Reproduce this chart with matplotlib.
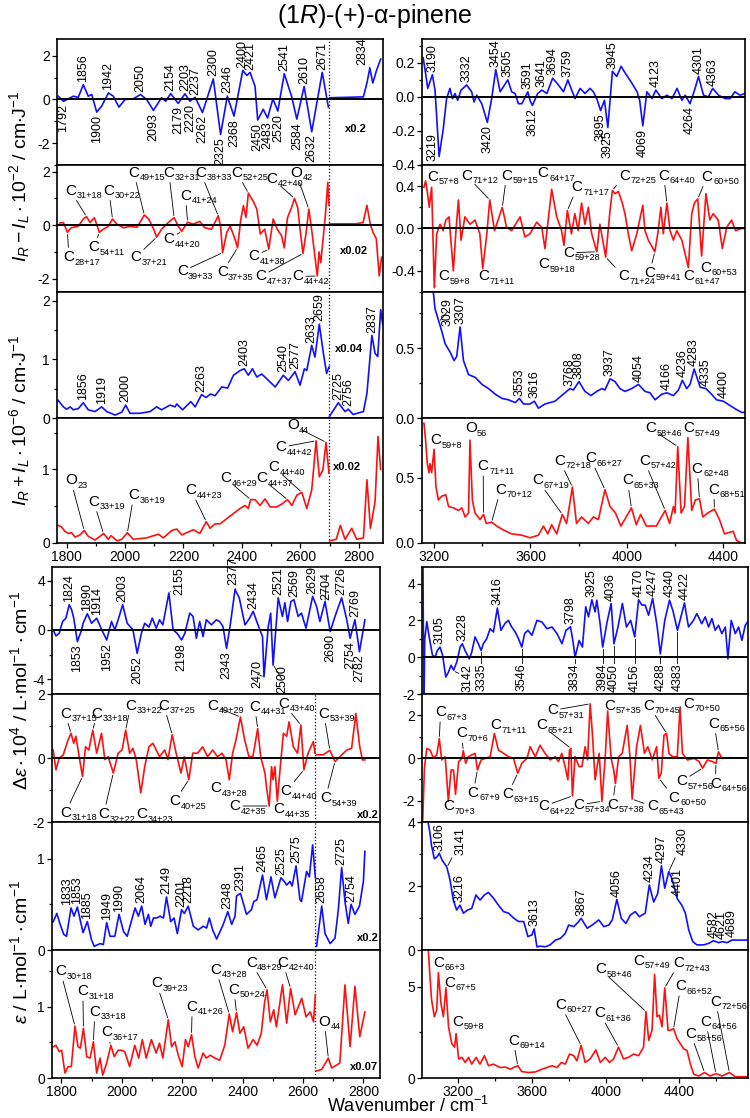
import numpy as np
import matplotlib
matplotlib.use('Agg')
import matplotlib.pyplot as plt
from matplotlib.ticker import MultipleLocator, FormatStrFormatter

plt.rcParams['font.family'] = ['Liberation Sans', 'DejaVu Sans']
plt.rcParams['mathtext.fontset'] = 'custom'
plt.rcParams['mathtext.rm'] = 'Liberation Sans'
plt.rcParams['mathtext.it'] = 'Liberation Sans:italic'
plt.rcParams['mathtext.bf'] = 'Liberation Sans:bold'
plt.rcParams['mathtext.default'] = 'regular'

nan = np.nan

# ---------------- spectra (wavenumber, value) ----------------
# top-left block: ROA difference / sum, 1770-2880
tl_diff_calc = np.array([
    (1771, 0.15), (1789, -0.08), (1806, 0.03), (1823, 0.15), (1840, 0.1), (1857, 0.68), (1874, 0.15),
    (1886, 0.23), (1903, -0.58), (1920, -0.3), (1943, 0.3), (1960, 0.15), (1979, -0.35), (2000, 0.0),
    (2028, 0.03), (2053, 0.23), (2074, 0.0), (2097, -0.5), (2125, 0.08), (2139, -0.08), (2156, 0.27),
    (2182, -0.18), (2205, 0.26), (2222, -0.08), (2240, 0.1), (2265, -0.6), (2302, 0.94), (2327, -1.6),
    (2350, 0.15), (2373, -0.76), (2403, 1.33), (2417, 1.1), (2428, 1.24), (2445, 0.6), (2454, -0.94),
    (2473, -0.45), (2488, -0.85), (2506, 0.03), (2523, -0.53), (2545, 1.18), (2570, 0.15), (2588, -0.9),
    (2613, 0.6), (2639, -1.48), (2675, 1.24), (2696, -0.35), (nan, nan),
    (2700, 0.08), (2759, 0.1), (2816, 0.12), (2828, 0.76), (2838, 1.44), (2848, 0.75), (2860, 1.3), (2875, 1.85)])

tl_diff_exp = np.array([
    (1777, 0.08), (1789, 0.1), (1803, -0.27), (1815, -0.1), (1840, -0.04), (1857, 0.23), (1868, 0.32),
    (1880, 0.1), (1895, 0.28), (1912, -0.27), (1926, -0.15), (1943, -0.04), (1957, 0.23), (1972, 0.04),
    (1995, -0.1), (2018, -0.04), (2041, -0.08), (2066, 0.38), (2081, 0.23), (2098, -0.15), (2108, -0.45),
    (2125, -0.15), (2148, 0.1), (2168, 0.28), (2182, -0.04), (2194, -0.23), (2214, 0.11), (2233, 0.04),
    (2256, 0.14), (2273, -0.1), (2296, -0.15), (2319, 0.35), (2327, -0.04), (2334, -1.03), (2348, -0.27),
    (2360, -0.04), (2377, -0.54), (2385, -0.85), (2396, 0.2), (2405, 0.73), (2414, 0.29), (2422, 1.2),
    (2440, 0.87), (2451, 0.6), (2463, -0.33), (2478, -0.15), (2492, -0.9), (2507, 0.23), (2521, -0.15),
    (2536, -0.4), (2545, -0.85), (2556, 0.28), (2570, 0.66), (2580, 1.0), (2591, 0.66), (2599, -0.15),
    (2609, -1.06), (2620, -0.27), (2629, 0.6), (2640, -0.27), (2654, -1.54), (2658, -1.9), (2664, -1.0),
    (2670, -1.4), (2685, 0.28), (2694, 1.6), (2698, 0.75), (nan, nan),
    (2700, 0.05), (2790, 0.05), (2815, 0.1), (2828, 0.74), (2840, 0.0), (2850, -0.3), (2860, -0.5),
    (2870, -1.9), (2878, -1.2)])

tl_sum_calc = np.array([
    (1771, 0.3), (1789, 0.19), (1800, 0.15), (1812, 0.19), (1823, 0.14), (1840, 0.16), (1857, 0.26),
    (1874, 0.14), (1897, 0.11), (1920, 0.19), (1937, 0.11), (1966, 0.05), (1989, 0.1), (2002, 0.22),
    (2017, 0.08), (2051, 0.08), (2086, 0.11), (2108, 0.19), (2125, 0.14), (2154, 0.22), (2171, 0.19),
    (2177, 0.24), (2197, 0.14), (2225, 0.28), (2240, 0.19), (2262, 0.4), (2277, 0.35), (2293, 0.41),
    (2308, 0.38), (2331, 0.53), (2351, 0.51), (2371, 0.73), (2394, 0.81), (2408, 0.84), (2422, 0.73),
    (2436, 0.84), (2451, 0.7), (2468, 0.75), (2491, 0.64), (2514, 0.53), (2542, 0.73), (2559, 0.64),
    (2582, 0.79), (2599, 0.56), (2614, 0.84), (2622, 0.81), (2639, 1.24), (2650, 1.04), (2665, 1.6),
    (2679, 1.1), (2690, 0.76), (2698, 0.87), (nan, nan),
    (2700, 0.03), (2730, 0.26), (2753, 0.11), (2764, 0.15), (2781, 0.06), (2816, 0.11), (2828, 0.42),
    (2845, 1.41), (2856, 1.1), (2865, 1.05), (2875, 1.85), (2882, 1.6)])

tl_sum_exp = np.array([
    (1771, 0.24), (1782, 0.22), (1794, 0.16), (1806, 0.13), (1817, 0.14), (1829, 0.08), (1846, 0.11),
    (1860, 0.17), (1874, 0.09), (1897, 0.04), (1914, 0.09), (1926, 0.13), (1943, 0.05), (1952, 0.1),
    (1972, 0.03), (1989, 0.05), (2008, 0.14), (2028, 0.05), (2074, 0.07), (2114, 0.12), (2131, 0.07),
    (2160, 0.17), (2177, 0.19), (2194, 0.11), (2234, 0.18), (2256, 0.13), (2278, 0.29), (2291, 0.2),
    (2308, 0.26), (2325, 0.26), (2348, 0.33), (2371, 0.4), (2394, 0.47), (2411, 0.51), (2422, 0.47),
    (2430, 0.59), (2445, 0.59), (2462, 0.51), (2479, 0.6), (2497, 0.49), (2519, 0.49), (2537, 0.53),
    (2556, 0.59), (2571, 0.51), (2588, 0.65), (2605, 0.69), (2622, 0.47), (2639, 0.72), (2654, 1.39),
    (2665, 0.9), (2677, 0.99), (2688, 1.37), (2698, 0.95), (nan, nan),
    (2700, 0.03), (2723, 0.05), (2737, 0.24), (2753, 0.05), (2776, 0.2), (2793, 0.05), (2816, 0.07),
    (2828, 0.86), (2840, 0.2), (2856, 0.57), (2866, 1.45), (2875, 1.0)])

# top-right block, 3150-4490
tr_diff_calc = np.array([
    (3155, 0.23), (3174, 0.05), (3193, 0.13), (3204, 0.04), (3221, -0.35), (3238, -0.19), (3252, -0.01),
    (3266, 0.05), (3276, -0.01), (3287, 0.02), (3298, -0.02), (3312, 0.04), (3335, 0.07), (3356, 0.03),
    (3366, -0.03), (3377, 0.01), (3398, -0.04), (3421, -0.15), (3439, -0.01), (3456, 0.16), (3474, 0.03),
    (3488, 0.06), (3506, 0.1), (3522, 0.03), (3536, 0.02), (3550, -0.04), (3564, -0.04), (3589, 0.03),
    (3598, -0.02), (3608, -0.05), (3630, 0.02), (3647, 0.04), (3668, 0.02), (3692, 0.11), (3716, 0.07),
    (3737, 0.03), (3755, 0.1), (3771, 0.04), (3785, -0.01), (3806, 0.05), (3826, 0.02), (3847, 0.05),
    (3861, 0.03), (3875, -0.01), (3891, -0.08), (3907, -0.02), (3921, -0.18), (3940, 0.15), (3958, 0.12),
    (3976, 0.18), (3993, 0.14), (4021, 0.08), (4042, 0.03), (4053, -0.02), (4066, -0.17), (4083, 0.03),
    (4104, -0.01), (4120, 0.04), (4145, -0.01), (4166, 0.01), (4187, -0.01), (4208, 0.05), (4228, -0.02),
    (4242, 0.01), (4262, -0.04), (4283, 0.05), (4297, 0.12), (4318, 0.01), (4338, 0.0), (4356, 0.05),
    (4380, 0.01), (4407, -0.01), (4428, -0.01), (4448, 0.03), (4469, 0.01), (4490, 0.02)])

tr_diff_exp = np.array([
    (3158, 0.39), (3165, 0.45), (3173, 0.33), (3180, 0.2), (3190, 0.39), (3197, -0.21), (3201, -0.56),
    (3211, -0.05), (3225, 0.04), (3238, -0.02), (3249, 0.08), (3262, 0.11), (3280, -0.4), (3290, -0.05),
    (3301, 0.27), (3312, -0.11), (3328, 0.11), (3349, 0.04), (3370, 0.08), (3390, -0.05), (3402, -0.38),
    (3419, -0.05), (3431, 0.27), (3451, -0.02), (3483, 0.2), (3501, 0.01), (3522, -0.02), (3557, 0.11),
    (3577, -0.08), (3598, -0.05), (3626, 0.06), (3647, 0.01), (3660, -0.19), (3688, 0.37), (3709, 0.11),
    (3729, -0.02), (3739, -0.16), (3753, 0.17), (3770, -0.05), (3784, 0.14), (3798, -0.02), (3812, 0.24),
    (3826, 0.04), (3840, 0.2), (3854, -0.05), (3875, -0.22), (3888, 0.04), (3912, -0.27), (3930, 0.17),
    (3940, 0.36), (3951, 0.33), (3965, 0.35), (3981, 0.24), (3992, 0.14), (4006, -0.05), (4020, -0.21),
    (4041, -0.05), (4066, 0.22), (4075, -0.02), (4089, -0.11), (4116, -0.22), (4130, -0.02), (4141, 0.2),
    (4151, -0.05), (4166, 0.24), (4179, -0.02), (4193, -0.11), (4207, -0.02), (4228, -0.11), (4255, -0.37),
    (4269, 0.14), (4280, 0.24), (4294, 0.28), (4310, -0.26), (4328, 0.33), (4344, 0.08), (4358, 0.14),
    (4379, 0.08), (4396, -0.19), (4414, 0.01), (4434, 0.08), (4451, -0.02), (4476, 0.0), (4490, 0.0)])

tr_sum_calc = np.array([
    (3160, 1.1), (3197, 0.9), (3204, 0.78), (3218, 0.7), (3232, 0.62), (3246, 0.53), (3267, 0.47),
    (3283, 0.41), (3294, 0.44), (3308, 0.65), (3322, 0.41), (3343, 0.31), (3371, 0.29), (3399, 0.24),
    (3426, 0.21), (3454, 0.17), (3482, 0.14), (3509, 0.13), (3537, 0.11), (3554, 0.14), (3571, 0.1),
    (3598, 0.1), (3616, 0.12), (3633, 0.07), (3660, 0.1), (3702, 0.12), (3736, 0.17), (3764, 0.21),
    (3778, 0.2), (3801, 0.26), (3826, 0.19), (3851, 0.16), (3875, 0.19), (3896, 0.21), (3909, 0.2),
    (3930, 0.28), (3951, 0.26), (3971, 0.21), (3992, 0.19), (4020, 0.21), (4048, 0.24), (4075, 0.19),
    (4096, 0.18), (4117, 0.13), (4145, 0.17), (4166, 0.18), (4193, 0.16), (4214, 0.2), (4230, 0.27),
    (4248, 0.21), (4262, 0.24), (4279, 0.35), (4304, 0.22), (4328, 0.21), (4351, 0.17), (4372, 0.13),
    (4400, 0.12), (4427, 0.09), (4455, 0.06), (4476, 0.04), (4490, 0.04)])

tr_sum_exp = np.array([
    (3158, 0.92), (3165, 0.79), (3172, 0.61), (3179, 0.54), (3183, 0.61), (3190, 0.54), (3200, 0.72),
    (3208, 0.43), (3218, 0.33), (3232, 0.36), (3249, 0.37), (3260, 0.28), (3280, 0.27), (3301, 0.25),
    (3315, 0.27), (3329, 0.2), (3343, 0.23), (3349, 0.79), (3359, 0.33), (3370, 0.23), (3391, 0.18),
    (3405, 0.22), (3417, 0.15), (3439, 0.16), (3460, 0.13), (3488, 0.1), (3522, 0.07), (3564, 0.06),
    (3598, 0.04), (3633, 0.06), (3654, 0.13), (3672, 0.07), (3688, 0.14), (3709, 0.07), (3732, 0.22),
    (3750, 0.15), (3774, 0.43), (3791, 0.15), (3812, 0.2), (3840, 0.15), (3861, 0.2), (3882, 0.18),
    (3909, 0.41), (3930, 0.28), (3953, 0.23), (3975, 0.13), (3994, 0.19), (4019, 0.27), (4039, 0.14),
    (4057, 0.22), (4081, 0.13), (4122, 0.13), (4159, 0.25), (4177, 0.15), (4193, 0.28), (4200, 0.23),
    (4211, 0.74), (4225, 0.23), (4239, 0.28), (4253, 0.81), (4269, 0.25), (4284, 0.33), (4301, 0.34),
    (4315, 0.2), (4335, 0.23), (4363, 0.26), (4384, 0.18), (4405, 0.07), (4441, 0.09), (4455, 0.02),
    (4476, 0.0), (4490, 0.0)])

# bottom-left block: difference and absorption, 1770-2855
bl_diff_calc = np.array([
    (1773, 0.0), (1782, -0.49), (1793, -0.27), (1804, 0.68), (1815, 0.95), (1826, 2.04), (1834, 1.63),
    (1841, 0.95), (1853, -0.95), (1867, 0.0), (1872, 0.54), (1886, 1.31), (1900, 0.54), (1917, 0.95),
    (1933, 0.05), (1950, -0.82), (1966, 0.68), (1977, 0.0), (1988, 0.82), (2003, 2.04), (2018, 0.54),
    (2037, 0.0), (2051, -1.9), (2065, -0.27), (2076, 0.54), (2090, 0.22), (2101, 0.95), (2114, 0.14),
    (2125, 0.82), (2136, 0.41), (2156, 3.0), (2170, 0.0), (2183, -0.27), (2198, -0.82), (2209, -0.27),
    (2225, 1.36), (2236, 1.09), (2247, -0.68), (2258, 0.68), (2269, -0.54), (2280, 0.82), (2297, 0.41),
    (2313, 0.82), (2324, 0.68), (2335, 0.27), (2347, -1.5), (2360, 0.54), (2375, 3.27), (2389, 2.6),
    (2408, 0.4), (2422, 0.9), (2435, 1.5), (2455, 0.14), (2466, -0.54), (2471, -3.8), (2485, 0.27),
    (2493, 1.36), (2501, -2.86), (2518, 2.6), (2532, 1.09), (2540, 2.2), (2549, 0.68), (2560, 2.3),
    (2570, 2.45), (2584, 1.09), (2595, 1.36), (2610, 0.14), (2632, 2.72), (2645, 1.9), (2656, 0.68),
    (2673, 2.3), (2690, -0.14), (2706, 1.09), (2728, 2.6), (2745, 0.82), (2756, -0.68), (2772, 0.82),
    (2787, -1.77), (2805, 0.82)])

bl_diff_exp = np.array([
    (1773, 0.25), (1782, -0.37), (1793, 0.0), (1806, 0.09), (1822, 0.56), (1832, 0.77), (1841, 0.46),
    (1848, 0.68), (1859, 0.04), (1870, -0.58), (1880, 0.35), (1891, 0.25), (1904, 0.87), (1917, 0.15),
    (1933, 0.77), (1944, -0.05), (1955, 0.04), (1972, -0.47), (1988, 0.15), (2001, 0.25), (2013, 0.87),
    (2026, 0.15), (2037, 0.3), (2048, -0.05), (2063, -1.09), (2076, -0.27), (2090, 0.35), (2103, 0.46),
    (2114, 0.25), (2125, 0.04), (2142, 0.25), (2153, -0.05), (2167, 0.73), (2180, 0.15), (2196, -0.47),
    (2207, 0.04), (2222, -0.68), (2235, 0.15), (2251, 0.15), (2268, 0.35), (2284, 0.04), (2301, 0.25),
    (2317, 0.04), (2332, 0.15), (2345, -0.05), (2356, -0.68), (2367, 0.15), (2378, 0.56), (2393, 1.28),
    (2407, 0.56), (2421, 0.04), (2434, 0.04), (2450, 0.92), (2460, 0.04), (2474, -0.47), (2479, -0.89),
    (2488, -1.5), (2496, -0.27), (2501, -0.68), (2507, -0.27), (2515, -1.35), (2524, -0.37), (2535, 0.77),
    (2546, 0.68), (2554, 1.13), (2568, 0.35), (2582, 0.15), (2593, 1.03), (2603, -0.37), (2617, 0.15),
    (2634, 0.51), (2640, 0.15), (nan, nan),
    (2645, 0.1), (2667, 0.1), (2689, 0.24), (2706, -0.11), (2722, 0.04), (2745, 0.25), (2761, 0.3),
    (2775, 1.39), (2788, 0.35), (2797, -0.06), (2805, -0.06)])

bl_abs_calc = np.array([
    (1773, 0.31), (1785, 0.4), (1796, 0.28), (1808, 0.17), (1817, 0.15), (1832, 0.46), (1842, 0.37),
    (1853, 0.47), (1867, 0.26), (1872, 0.19), (1886, 0.31), (1900, 0.11), (1909, 0.04), (1928, 0.07),
    (1939, 0.06), (1950, 0.3), (1961, 0.15), (1977, 0.15), (1991, 0.39), (2006, 0.2), (2018, 0.15),
    (2033, 0.33), (2044, 0.46), (2055, 0.37), (2066, 0.48), (2077, 0.28), (2088, 0.39), (2096, 0.26),
    (2105, 0.35), (2116, 0.35), (2127, 0.37), (2138, 0.35), (2148, 0.58), (2162, 0.31), (2173, 0.35),
    (2184, 0.18), (2198, 0.44), (2207, 0.4), (2220, 0.48), (2237, 0.26), (2253, 0.22), (2270, 0.26),
    (2281, 0.24), (2290, 0.35), (2301, 0.22), (2314, 0.12), (2325, 0.2), (2336, 0.28), (2351, 0.42),
    (2364, 0.28), (2375, 0.37), (2380, 0.59), (2393, 0.62), (2413, 0.39), (2429, 0.44), (2437, 0.53),
    (2448, 0.55), (2466, 0.82), (2479, 0.55), (2494, 0.8), (2507, 0.57), (2527, 0.79), (2538, 0.75),
    (2546, 0.71), (2557, 0.75), (2564, 0.7), (2577, 0.92), (2590, 0.55), (2595, 0.53), (2612, 0.86),
    (2621, 0.8), (2632, 1.15), (2641, 0.79), (nan, nan),
    (2645, 0.04), (2662, 0.48), (2673, 0.18), (2690, 0.07), (2706, 0.13), (2717, 0.44), (2728, 0.9),
    (2739, 0.53), (2750, 0.29), (2759, 0.5), (2772, 0.39), (2787, 0.48), (2800, 0.75), (2805, 1.08)])

bl_abs_exp = np.array([
    (1773, 0.44), (1782, 0.46), (1793, 0.37), (1801, 0.39), (1812, 0.07), (1822, 0.16), (1833, 0.16),
    (1845, 0.73), (1855, 0.44), (1863, 0.42), (1873, 0.7), (1884, 0.3), (1895, 0.28), (1906, 0.51),
    (1917, 0.07), (1928, 0.28), (1937, 0.04), (1950, 0.21), (1964, 0.46), (1975, 0.3), (1988, 0.39),
    (1999, 0.39), (2010, 0.37), (2026, 0.16), (2043, 0.46), (2056, 0.28), (2068, 0.54), (2081, 0.28),
    (2098, 0.54), (2114, 0.35), (2125, 0.49), (2136, 0.28), (2154, 0.82), (2165, 0.44), (2176, 0.51),
    (2187, 0.32), (2200, 0.16), (2211, 0.54), (2220, 0.44), (2231, 0.61), (2242, 0.3), (2253, 0.14),
    (2269, 0.35), (2280, 0.28), (2293, 0.32), (2308, 0.28), (2324, 0.25), (2341, 0.46), (2356, 0.9),
    (2367, 0.65), (2380, 0.92), (2391, 0.63), (2404, 0.72), (2418, 0.42), (2435, 0.54), (2448, 0.46),
    (2462, 0.63), (2473, 1.07), (2481, 1.24), (2492, 0.79), (2503, 0.96), (2512, 0.72), (2532, 1.31),
    (2546, 0.77), (2559, 1.26), (2574, 0.89), (2596, 1.12), (2610, 0.86), (2624, 0.93), (2635, 0.79),
    (2641, 1.17), (nan, nan),
    (2645, 0.1), (2662, 0.12), (2684, 0.28), (2695, 0.14), (2722, 0.21), (2739, 1.31), (2756, 0.44),
    (2772, 1.29), (2788, 0.58), (2805, 0.93)])

# bottom-right block, 3003-4773
br_diff_calc = np.array([
    (3008, 5.5), (3013, -3.0), (3018, 1.0), (3029, 1.93), (3042, 1.1), (3060, 0.1), (3074, 0.0),
    (3086, 0.36), (3101, 0.55), (3115, 0.1), (3132, -1.08), (3147, -0.8), (3161, -0.44), (3175, -0.7),
    (3192, -0.26), (3210, 0.55), (3222, 0.73), (3237, 0.36), (3260, -0.09), (3273, 0.27), (3291, 1.1),
    (3309, 0.73), (3324, 0.36), (3336, 0.73), (3354, 1.0), (3373, 1.55), (3391, 1.37), (3412, 2.67),
    (3432, 1.46), (3454, 1.84), (3472, 2.0), (3490, 1.64), (3509, 1.37), (3527, 1.0), (3545, 0.55),
    (3560, 1.28), (3578, 1.46), (3600, 1.19), (3627, 2.0), (3654, 1.91), (3681, 1.55), (3709, 1.64),
    (3736, 1.28), (3763, 0.73), (3785, 1.46), (3809, 1.65), (3822, 0.91), (3834, 0.0), (3856, 0.91),
    (3874, 0.55), (3892, 2.74), (3907, 2.19), (3925, 3.12), (3943, 2.46), (3952, 3.1), (3970, 1.82),
    (3984, 0.55), (4008, 1.92), (4030, 2.92), (4045, 0.73), (4067, 1.64), (4091, 2.92), (4113, 1.64),
    (4136, 2.0), (4158, 1.1), (4179, 3.12), (4197, 2.83), (4215, 2.83), (4233, 2.28), (4255, 3.2),
    (4279, 1.73), (4297, 0.18), (4321, 2.0), (4347, 3.1), (4367, 2.46), (4390, 1.46), (4404, 2.0),
    (4428, 2.95), (4450, 1.64), (4477, 2.0), (4495, 2.37), (4522, 1.82), (4541, 2.19), (4559, 1.64),
    (4577, 2.1), (4595, 1.46), (4613, 1.73), (4631, 1.28), (4650, 1.64), (4664, -0.09), (4682, 2.0),
    (4704, 1.28), (4722, 1.64), (4740, 0.91), (4758, 1.73), (4777, 2.0)])

br_diff_exp = np.array([
    (3007, -2.9), (3016, -0.48), (3029, 0.45), (3047, 0.37), (3065, 0.0), (3083, 0.14), (3097, 0.91),
    (3110, -0.09), (3129, 0.06), (3146, -2.03), (3161, -0.56), (3174, -0.56), (3185, -1.7), (3202, -0.17),
    (3220, -0.02), (3227, 0.35), (3240, -0.25), (3254, 0.06), (3273, 0.14), (3291, 0.22), (3304, -0.56),
    (3324, -0.09), (3346, -0.02), (3373, 0.06), (3396, 1.15), (3418, 0.37), (3446, 0.22), (3473, 0.06),
    (3500, -0.02), (3523, -0.71), (3545, -0.25), (3573, -0.02), (3590, 0.53), (3618, 0.06), (3644, 0.6),
    (3671, 0.22), (3699, -0.09), (3726, 0.06), (3744, -0.17), (3762, 0.22), (3780, -0.4), (3795, -1.02),
    (3804, 0.37), (3811, 0.45), (3820, -1.78), (3834, 0.06), (3856, -0.4), (3871, -0.4), (3889, 0.53),
    (3902, -0.09), (3916, 2.54), (3928, 1.15), (3943, -1.02), (3965, 0.22), (3980, -2.03), (3998, 0.06),
    (4011, 2.2), (4030, -0.02), (4044, -0.56), (4053, -1.2), (4071, 0.06), (4090, 0.22), (4117, 1.53),
    (4132, 0.06), (4144, -1.93), (4168, 0.53), (4189, 1.53), (4211, 0.22), (4229, 0.53), (4253, -0.09),
    (4277, 0.53), (4289, -0.95), (4302, -0.71), (4317, 1.07), (4331, 1.15), (4344, 0.22), (4362, 0.06),
    (4389, 0.06), (4404, 2.38), (4417, 0.22), (4444, -0.09), (4481, -0.02), (4508, -0.17), (4526, -0.48),
    (4553, -0.09), (4580, -0.17), (4599, -0.25), (4613, 0.29), (4631, -0.02), (4668, 0.0), (4704, 0.0),
    (4740, 0.0), (4777, 0.0)])

br_abs_calc = np.array([
    (3030, 4.5), (3037, 3.96), (3046, 3.67), (3055, 3.25), (3070, 2.85), (3083, 2.9), (3097, 3.02),
    (3113, 2.8), (3137, 2.6), (3155, 2.2), (3173, 1.56), (3191, 1.25), (3209, 1.4), (3228, 1.15),
    (3251, 1.25), (3273, 1.3), (3296, 1.72), (3318, 1.56), (3342, 1.72), (3363, 1.8), (3391, 1.62),
    (3418, 1.4), (3446, 1.2), (3473, 1.15), (3500, 1.0), (3527, 0.89), (3555, 0.89), (3578, 0.42),
    (3600, 0.47), (3612, 0.66), (3627, 0.1), (3645, 0.12), (3672, 0.1), (3699, 0.16), (3727, 0.31),
    (3754, 0.36), (3781, 0.52), (3799, 0.78), (3827, 0.73), (3854, 0.89), (3867, 0.99), (3900, 0.68),
    (3927, 0.78), (3963, 0.94), (3990, 0.73), (4018, 0.78), (4036, 0.94), (4061, 1.58), (4085, 0.99),
    (4110, 0.83), (4134, 1.09), (4161, 1.2), (4183, 1.04), (4197, 1.09), (4215, 1.15), (4237, 2.03),
    (4261, 1.5), (4283, 1.77), (4303, 2.63), (4321, 1.93), (4343, 2.45), (4362, 2.2), (4389, 1.6),
    (4414, 1.4), (4433, 1.15), (4451, 0.63), (4473, 0.26), (4496, 0.16), (4533, 0.16), (4560, 0.21),
    (4586, 0.29), (4614, 0.23), (4632, 0.26), (4659, 0.23), (4686, 0.31), (4722, 0.31), (4777, 0.31)])

br_abs_exp = np.array([
    (3030, 8.0), (3037, 7.06), (3046, 5.57), (3055, 4.28), (3070, 3.35), (3083, 3.72), (3092, 5.76),
    (3106, 4.09), (3119, 3.35), (3133, 4.93), (3147, 2.8), (3165, 1.87), (3180, 1.69), (3188, 2.43),
    (3202, 1.04), (3220, 1.13), (3238, 0.85), (3256, 1.13), (3273, 0.76), (3297, 1.13), (3318, 0.76),
    (3342, 1.22), (3364, 0.67), (3391, 0.76), (3427, 0.57), (3455, 0.6), (3482, 0.48), (3500, 0.57),
    (3523, 0.67), (3545, 0.35), (3582, 0.3), (3618, 0.33), (3654, 0.48), (3681, 0.57), (3709, 0.67),
    (3736, 0.57), (3760, 0.85), (3781, 0.76), (3804, 1.31), (3827, 1.22), (3844, 0.94), (3867, 1.78),
    (3889, 0.85), (3916, 1.04), (3947, 1.54), (3971, 0.85), (3998, 1.13), (4021, 0.85), (4043, 1.04),
    (4070, 1.69), (4097, 1.04), (4124, 1.13), (4152, 1.31), (4179, 1.22), (4206, 1.69), (4219, 3.63),
    (4234, 2.06), (4252, 2.61), (4266, 5.67), (4279, 3.35), (4292, 3.44), (4306, 2.8), (4321, 4.93),
    (4339, 2.61), (4352, 2.61), (4369, 2.7), (4388, 2.15), (4406, 1.87), (4424, 1.59), (4442, 1.5),
    (4460, 0.76), (4479, 0.2), (4506, 0.11), (4537, 0.3), (4568, 0.11), (4599, 0.24), (4632, 0.11),
    (4672, 0.3), (4704, 0.07), (4777, 0.07)])

# ---------------- band labels ----------------
tl1_up = [1856, 1942, 2050, 2154, 2203, 2237, 2300, 2346, 2400, 2421, 2541, 2610, 2671]
tl1_dn = [1792, 1900, 2093, 2179, 2220, 2262, 2325, 2368, 2450, 2483, 2520, 2584, 2632]
tl3_up = [1856, 1919, 2000, 2263, 2403, 2540, 2577, 2633, 2659, 2725, 2756, 2837]
tr1_up = [3190, 3332, 3454, 3505, 3591, 3641, 3694, 3759, 3945, 4123, 4301, 4363]
tr1_dn = [3420, 3612, 3895, 3925, 4069, 4264]
tr3_up = [3307, 3553, 3616, 3768, 3808, 3937, 4054, 4166, 4236, 4283, 4335, 4400]
bl5_up = [1824, 1890, 1914, 2003, 2434, 2521, 2569, 2629, 2726, 2769]
bl5_dn = [1853, 1952, 2052, 2198, 2343, 2690, 2754, 2782]
bl7_up = [1833, 1853, 1885, 1949, 1990, 2064, 2149, 2201, 2218, 2348, 2391, 2465, 2525, 2575,
          2658, 2725, 2754]
br5_up = [3105, 3228, 3416, 3798, 3925, 4036, 4170, 4247, 4340, 4422]
br5_dn = [3335, 3546, 3834, 3984, 4050, 4156, 4288, 4383]
br7_up = [3106, 3216, 3613, 3867, 4056, 4234, 4297, 4401, 4582, 4621, 4689]

# (letter, subscript, band position, text x, text y, leader line)
tl2_modes = [
    ('C', '31+18', 1868, 1794, 1.29, True), ('C', '30+22', 1957, 1926, 1.29, True),
    ('C', '49+15', 2066, 2011, 1.96, True), ('C', '32+31', 2168, 2131, 1.96, True),
    ('C', '38+33', 2319, 2240, 1.96, True), ('C', '41+24', 2214, 2188, 1.1, True),
    ('C', '52+25', 2422, 2365, 1.96, True), ('C', '42+40', 2580, 2485, 1.74, True),
    ('O', '42', 2629, 2565, 1.96, True),
    ('C', '28+17', 1803, 1789, -1.2, True), ('C', '54+11', 1912, 1874, -0.83, True),
    ('C', '37+21', 2108, 2017, -1.2, True), ('C', '44+20', 2194, 2131, -0.53, True),
    ('C', '39+33', 2334, 2177, -1.73, True), ('C', '37+35', 2385, 2314, -1.77, True),
    ('C', '41+38', 2492, 2422, -1.17, True), ('C', '47+37', 2609, 2445, -1.92, True),
    ('C', '44+42', 2658, 2572, -1.92, True)]
tl4_modes = [
    ('O', '23', 1860, 1794, 0.85, True), ('C', '33+19', 1926, 1874, 0.56, True),
    ('C', '36+19', 2008, 2011, 0.65, True), ('C', '44+23', 2278, 2207, 0.72, True),
    ('C', '46+29', 2430, 2325, 0.88, True), ('C', '44+37', 2556, 2448, 0.88, True),
    ('C', '44+40', 2605, 2491, 1.03, True), ('C', '44+42', 2654, 2514, 1.3, True),
    ('O', '44', 2688, 2554, 1.6, True)]
tr2_modes = [
    ('C', '57+8', 3165, 3170, 0.49, False), ('C', '71+12', 3431, 3312, 0.5, True),
    ('C', '59+15', 3483, 3478, 0.5, True), ('C', '64+17', 3688, 3630, 0.52, False),
    ('C', '71+17', 3753, 3771, 0.39, True), ('C', '72+25', 3940, 3967, 0.5, True),
    ('C', '64+40', 4166, 4130, 0.5, True), ('C', '60+50', 4294, 4310, 0.49, True),
    ('C', '59+8', 3201, 3218, -0.45, True), ('C', '71+11', 3402, 3382, -0.45, False),
    ('C', '59+18', 3660, 3631, -0.34, False), ('C', '59+28', 3875, 3735, -0.23, True),
    ('C', '71+24', 3912, 3963, -0.45, True), ('C', '59+41', 4116, 4071, -0.42, True),
    ('C', '61+47', 4255, 4233, -0.45, False), ('C', '60+53', 4310, 4303, -0.37, False)]
tr4_modes = [
    ('C', '59+8', 3200, 3183, 0.79, False), ('O', '56', 3349, 3328, 0.88, False),
    ('C', '71+11', 3405, 3381, 0.59, True), ('C', '70+12', 3439, 3453, 0.41, True),
    ('C', '67+19', 3732, 3608, 0.48, True), ('C', '72+18', 3774, 3699, 0.63, True),
    ('C', '66+27', 3909, 3826, 0.65, True), ('C', '65+33', 4019, 3979, 0.48, True),
    ('C', '57+42', 4159, 4050, 0.63, True), ('C', '58+46', 4211, 4075, 0.88, True),
    ('C', '57+49', 4253, 4234, 0.88, False), ('C', '62+48', 4301, 4269, 0.57, True),
    ('C', '68+51', 4363, 4338, 0.41, True)]
bl6_modes = [
    ('C', '37+15', 1832, 1795, 1.39, True), ('C', '33+18', 1904, 1900, 1.39, True),
    ('C', '33+22', 2013, 2011, 1.64, True), ('C', '37+25', 2167, 2121, 1.64, True),
    ('C', '49+29', 2393, 2283, 1.64, True), ('C', '44+31', 2450, 2422, 1.6, True),
    ('C', '43+40', 2593, 2518, 1.7, True), ('C', '53+39', 2689, 2651, 1.39, True),
    ('C', '31+18', 1870, 1795, -1.71, True), ('C', '32+22', 1972, 1922, -1.75, True),
    ('C', '34+23', 2063, 2047, -1.75, False), ('C', '40+25', 2222, 2157, -1.35, True),
    ('C', '43+28', 2356, 2292, -0.94, False), ('C', '42+35', 2488, 2356, -1.5, True),
    ('C', '44+35', 2515, 2502, -1.6, False), ('C', '44+40', 2603, 2526, -1.04, True),
    ('C', '54+39', 2706, 2656, -1.25, True)]
bl8_modes = [
    ('C', '30+18', 1845, 1779, 1.5, True), ('C', '31+18', 1873, 1853, 1.22, True),
    ('C', '33+18', 1906, 1893, 0.93, True), ('C', '36+17', 1964, 1931, 0.64, True),
    ('C', '39+23', 2154, 2097, 1.33, True), ('C', '41+26', 2231, 2215, 1.0, True),
    ('C', '43+28', 2356, 2294, 1.52, True), ('C', '50+24', 2380, 2353, 1.24, True),
    ('C', '48+29', 2481, 2411, 1.62, True), ('C', '42+40', 2559, 2515, 1.62, True),
    ('O', '44', 2684, 2651, 0.79, True)]
br6_modes = [
    ('C', '67+3', 3097, 3074, 2.15, True), ('C', '70+6', 3227, 3188, 1.15, True),
    ('C', '71+11', 3396, 3373, 1.53, False), ('C', '65+21', 3811, 3623, 1.53, True),
    ('C', '57+31', 3916, 3681, 2.23, True), ('C', '57+35', 4011, 3994, 2.46, False),
    ('C', '70+45', 4331, 4206, 2.46, True), ('C', '70+50', 4404, 4423, 2.54, True),
    ('C', '65+56', 4613, 4559, 1.61, True),
    ('C', '70+3', 3146, 3119, -2.26, False), ('C', '67+9', 3304, 3251, -1.64, True),
    ('C', '63+15', 3523, 3439, -1.7, True), ('C', '64+22', 3820, 3635, -2.26, True),
    ('C', '57+34', 3980, 3825, -2.2, True), ('C', '57+38', 4053, 4007, -2.2, True),
    ('C', '65+43', 4144, 4224, -2.26, True), ('C', '60+50', 4289, 4342, -1.87, True),
    ('C', '57+56', 4526, 4382, -1.1, True), ('C', '64+56', 4599, 4566, -1.2, True)]
br8_modes = [
    ('C', '66+3', 3092, 3065, 6.3, False), ('C', '67+5', 3133, 3122, 5.2, False),
    ('C', '59+8', 3188, 3167, 3.07, False), ('C', '69+14', 3523, 3469, 2.05, True),
    ('C', '60+27', 3867, 3726, 4.0, True), ('C', '61+36', 4070, 3939, 3.54, True),
    ('C', '58+46', 4219, 3943, 5.94, True), ('C', '57+49', 4266, 4151, 6.4, False),
    ('C', '72+43', 4321, 4369, 6.28, True), ('C', '66+52', 4369, 4378, 5.02, True),
    ('C', '72+56', 4672, 4568, 4.18, True), ('C', '64+56', 4599, 4514, 3.07, True),
    ('C', '58+56', 4537, 4432, 2.43, True)]

BLUE = '#1010ff'
RED = '#ff1010'
W, H = 750, 1118
fig = plt.figure(figsize=(7.5, 11.18), dpi=100)


def axes_px(x0, x1, y0, y1):
    return fig.add_axes([x0 / W, 1 - y1 / H, (x1 - x0) / W, (y1 - y0) / H])


def setup(ax, xlim, xmaj, ylim, yt, fmt, ymin, showx):
    ax.set_xlim(*xlim)
    ax.set_ylim(*ylim)
    ax.xaxis.set_major_locator(MultipleLocator(xmaj))
    ax.xaxis.set_minor_locator(MultipleLocator(xmaj / 2))
    ax.set_yticks(yt)
    ax.yaxis.set_major_formatter(FormatStrFormatter(fmt))
    ax.yaxis.set_minor_locator(MultipleLocator(ymin))
    ax.tick_params(which='both', direction='out', width=0.9, labelsize=10, pad=1.5)
    ax.tick_params(which='major', length=3.5)
    ax.tick_params(which='minor', length=2)
    ax.tick_params(axis='x', labelbottom=showx)
    for s in ax.spines.values():
        s.set_linewidth(1.2)


def curve(ax, d, color, zero=False):
    ax.plot(d[:, 0], d[:, 1], color=color, lw=1.2, zorder=2)
    if zero:
        ax.axhline(0, color='k', lw=1.4, zorder=3)


def peak_labels(ax, d, vals, up=True, at=None, w=12, pad=2):
    x, y = d[:, 0], d[:, 1]
    at = at or {}
    for v in vals:
        m = np.abs(x - v) <= w
        if not m.any():
            m = np.abs(x - v) == np.nanmin(np.abs(x - v))
        idx = np.where(m)[0]
        k = idx[np.nanargmax(y[idx])] if up else idx[np.nanargmin(y[idx])]
        ax.annotate(str(v), (at.get(v, x[k]), y[k]), xytext=(0, pad if up else -pad),
                    textcoords='offset points', rotation=90, ha='center',
                    va='bottom' if up else 'top', fontsize=9)


def mode_labels(ax, d, items):
    x, y = d[:, 0], d[:, 1]
    for letter, sub, bx, tx, ty, lead in items:
        k = np.nanargmin(np.abs(x - bx))
        if lead:
            ax.annotate(letter, (x[k], y[k]), xytext=(tx, ty), ha='left', va='center', fontsize=11,
                        arrowprops=dict(arrowstyle='-', color='k', lw=0.6, shrinkA=0, shrinkB=1.5))
        else:
            ax.text(tx, ty, letter, ha='left', va='center', fontsize=11)
        ax.annotate(sub, (tx, ty), xytext=(8.2 if letter == 'C' else 8.8, -3.6),
                    textcoords='offset points', ha='left', va='center', fontsize=6.6)


def lead_label(ax, text, xy, xyt, up=True):
    ax.annotate(text, xy, xytext=xyt, rotation=90, ha='center', va='bottom' if up else 'top',
                fontsize=9, arrowprops=dict(arrowstyle='-', color='k', lw=0.6, shrinkA=0, shrinkB=1))


def factor(ax, x, y, text, ha='center'):
    ax.text(x, y, text, fontsize=8, fontweight='bold', ha=ha, va='center')


# ---------------- top-left block ----------------
TLX = (1767, 2883)
a1 = axes_px(57, 383, 39, 165)
a2 = axes_px(57, 383, 165, 292)
a3 = axes_px(57, 383, 292, 418)
a4 = axes_px(57, 383, 418, 543)
setup(a1, TLX, 200, (-3.0, 2.77), [-2, 0, 2], '%d', 1, False)
setup(a2, TLX, 200, (-2.5, 2.25), [-2, 0, 2], '%d', 1, False)
setup(a3, TLX, 200, (0, 2.15), [0, 1, 2], '%d', 0.5, False)
setup(a4, TLX, 200, (0, 1.7), [0, 1], '%d', 0.5, True)
curve(a1, tl_diff_calc, BLUE, True)
curve(a2, tl_diff_exp, RED, True)
curve(a3, tl_sum_calc, BLUE)
curve(a4, tl_sum_exp, RED)
for a in (a1, a2, a3, a4):
    a.axvline(2698, color='k', ls=':', lw=0.9, zorder=1)
peak_labels(a1, tl_diff_calc, tl1_up, True)
peak_labels(a1, tl_diff_calc, tl1_dn, False)
lead_label(a1, '2834', (2837, 1.44), (2812, 1.6))
peak_labels(a3, tl_sum_calc, tl3_up, True)
mode_labels(a2, tl_diff_exp, tl2_modes)
mode_labels(a4, tl_sum_exp, tl4_modes)
factor(a1, 2789, -1.36, 'x0.2')
factor(a2, 2783, -0.95, 'x0.02')
factor(a3, 2767, 1.18, 'x0.04')
factor(a4, 2758, 1.03, 'x0.02')

# ---------------- top-right block ----------------
TRX = (3150, 4490)
b1 = axes_px(422, 745, 39, 165)
b2 = axes_px(422, 745, 165, 292)
b3 = axes_px(422, 745, 292, 418)
b4 = axes_px(422, 745, 418, 543)
setup(b1, TRX, 400, (-0.4, 0.34), [-0.4, -0.2, 0, 0.2], '%.1f', 0.1, False)
setup(b2, TRX, 400, (-0.6, 0.6), [-0.4, 0, 0.4], '%.1f', 0.2, False)
setup(b3, TRX, 400, (0, 0.9), [0, 0.5], '%.1f', 0.25, False)
setup(b4, TRX, 400, (0, 0.96), [0, 0.5], '%.1f', 0.25, True)
curve(b1, tr_diff_calc, BLUE, True)
curve(b2, tr_diff_exp, RED, True)
curve(b3, tr_sum_calc, BLUE)
curve(b4, tr_sum_exp, RED)
peak_labels(b1, tr_diff_calc, tr1_up, True)
peak_labels(b1, tr_diff_calc, tr1_dn, False)
b1.text(3195, -0.21, '3219', rotation=90, ha='center', va='top', fontsize=9)
peak_labels(b3, tr_sum_calc, tr3_up, True)
lead_label(b3, '3029', (3222, 0.69), (3255, 0.66))
mode_labels(b2, tr_diff_exp, tr2_modes)
mode_labels(b4, tr_sum_exp, tr4_modes)

# ---------------- bottom-left block ----------------
BLX = (1769, 2855)
c1 = axes_px(52, 380, 567, 694)
c2 = axes_px(52, 380, 694, 822)
c3 = axes_px(52, 380, 822, 950)
c4 = axes_px(52, 380, 950, 1078)
setup(c1, BLX, 200, (-5.2, 5.1), [-4, 0, 4], '%d', 2, False)
setup(c2, BLX, 200, (-2, 2), [-2, 0, 2], '%d', 1, False)
setup(c3, BLX, 200, (0, 1.4), [0, 1], '%d', 0.5, False)
setup(c4, BLX, 200, (0, 1.8), [0, 1], '%d', 0.5, True)
curve(c1, bl_diff_calc, BLUE, True)
curve(c2, bl_diff_exp, RED, True)
curve(c3, bl_abs_calc, BLUE)
curve(c4, bl_abs_exp, RED)
for a in (c2, c3, c4):
    a.axvline(2641, color='k', ls=':', lw=0.9, zorder=1)
peak_labels(c1, bl_diff_calc, bl5_up, True)
lead_label(c1, '2704', (2673, 2.3), (2676, 2.45))
peak_labels(c1, bl_diff_calc, bl5_dn, False)
lead_label(c1, '2155', (2157, 3.0), (2190, 2.85))
lead_label(c1, '2377', (2376, 3.27), (2369, 3.6))
lead_label(c1, '2470', (2470, -3.8), (2449, -2.45), up=False)
lead_label(c1, '2500', (2502, -2.86), (2530, -2.86), up=False)
peak_labels(c3, bl_abs_calc, bl7_up, True, at={1833: 1818})
mode_labels(c2, bl_diff_exp, bl6_modes)
mode_labels(c4, bl_abs_exp, bl8_modes)
factor(c2, 2850, -1.77, 'x0.2', ha='right')
factor(c3, 2850, 0.13, 'x0.2', ha='right')
factor(c4, 2850, 0.16, 'x0.07', ha='right')

# ---------------- bottom-right block ----------------
BRX = (3003, 4773)
d1 = axes_px(422, 748, 567, 694)
d2 = axes_px(422, 748, 694, 822)
d3 = axes_px(422, 748, 822, 950)
d4 = axes_px(422, 748, 950, 1078)
setup(d1, BRX, 400, (-2, 4.9), [-2, 0, 2, 4], '%d', 1, False)
setup(d2, BRX, 400, (-3, 3), [-2, 0, 2], '%d', 1, False)
setup(d3, BRX, 400, (0, 4), [0, 2, 4], '%d', 1, False)
setup(d4, BRX, 400, (0, 7), [0, 5], '%d', 2.5, True)
curve(d1, br_diff_calc, BLUE, True)
curve(d2, br_diff_exp, RED, True)
curve(d3, br_abs_calc, BLUE)
curve(d4, br_abs_exp, RED)
peak_labels(d1, br_diff_calc, br5_up, True)
xb, yb = br_diff_calc[:, 0], br_diff_calc[:, 1]
for v in br5_dn:
    idx = np.where(np.abs(xb - v) <= 12)[0]
    k = idx[np.argmin(yb[idx])]
    d1.plot([xb[k], xb[k]], [yb[k] - 0.1, -0.3], color='k', lw=0.6)
    d1.text(xb[k], -0.35, str(v), rotation=90, ha='center', va='top', fontsize=9)
lead_label(d1, '3142', (3175, -0.75), (3251, -0.35), up=False)
peak_labels(d3, br_abs_calc, br7_up, True)
lead_label(d3, '3141', (3140, 2.6), (3212, 2.97))
lead_label(d3, '4330', (4343, 2.45), (4418, 2.97))
mode_labels(d2, br_diff_exp, br6_modes)
mode_labels(d4, br_abs_exp, br8_modes)

# ---------------- titles and axis labels ----------------
fig.text(375 / W, 1 - 16 / H, '(1$\\mathit{R}$)-(+)-α-pinene', ha='center', va='center', fontsize=18)
ylab_kw = dict(rotation=90, ha='center', va='center', fontsize=14)
fig.text(20 / W, 1 - 176 / H, r'$\mathit{I}_\mathit{R} - \mathit{I}_\mathit{L}\cdot10^{-2}$ / cm$\cdot$J$^{-1}$', **ylab_kw)
fig.text(20 / W, 1 - 420 / H, r'$\mathit{I}_\mathit{R} + \mathit{I}_\mathit{L}\cdot10^{-6}$ / cm$\cdot$J$^{-1}$', **ylab_kw)
fig.text(20 / W, 1 - 690 / H, r'$\mathit{\Delta\varepsilon}\cdot10^{4}$ / L$\cdot$mol$^{-1}\cdot$cm$^{-1}$', **ylab_kw)
fig.text(20 / W, 1 - 952 / H, r'$\mathit{\varepsilon}$ / L$\cdot$mol$^{-1}\cdot$cm$^{-1}$', **ylab_kw)
fig.text(408 / W, 1 - 1106 / H, 'Wavenumber / cm$^{-1}$', ha='center', va='center', fontsize=13)

fig.savefig('out.png', dpi=100)
